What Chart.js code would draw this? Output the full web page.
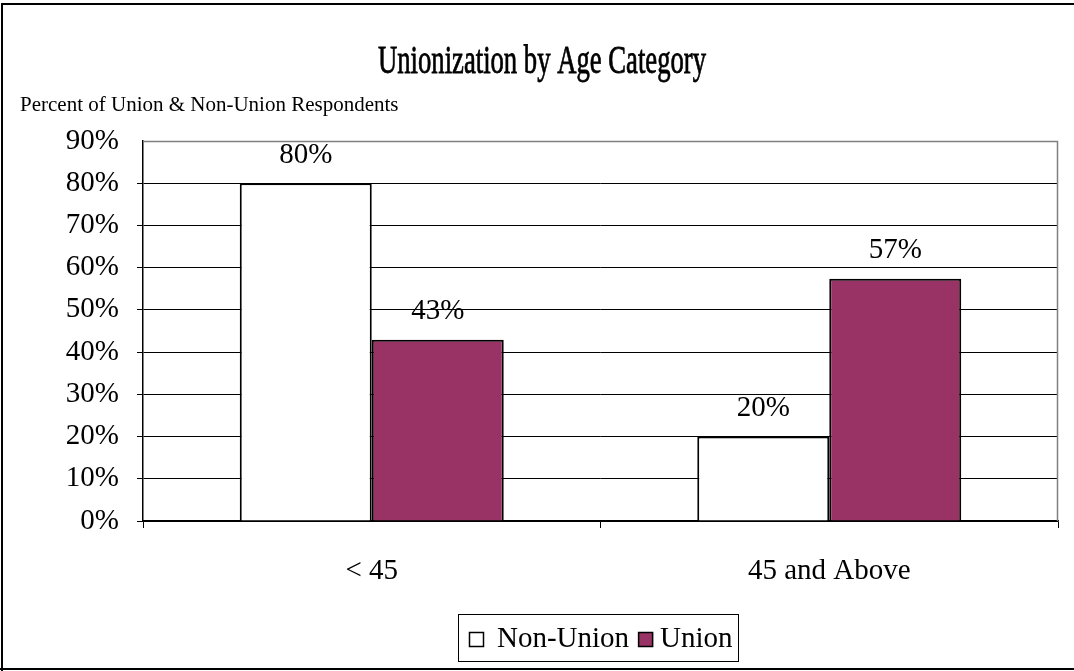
<!DOCTYPE html>
<html>
<head>
<meta charset="utf-8">
<script src="https://cdn.jsdelivr.net/npm/chart.js@4.4.0/dist/chart.umd.min.js"></script>
<style>
  html, body { margin: 0; padding: 0; background: #fff; }
  #wrap { width: 1074px; height: 671px; }
</style>
</head>
<body>
<div id="wrap"><canvas id="unionChart" width="1074" height="671"></canvas></div>
<script>
const categories = ['< 45', '45 and Above'];
const nonUnion = [80, 20];
const union = [42.9, 57.4];
const yTicks = [0, 10, 20, 30, 40, 50, 60, 70, 80, 90];

const chartTitle = 'Unionization by Age Category';
const yTitle = 'Percent of Union & Non-Union Respondents';
const serif = '"Liberation Serif", "Times New Roman", serif';

// frame, title, axis caption, plot border, value labels, legend
const decor = {
  id: 'decor',
  beforeDatasetsDraw(chart){
    const {ctx, chartArea:a} = chart;
    ctx.save();
    ctx.strokeStyle = '#808080';
    ctx.lineWidth = 1.5;
    ctx.beginPath();
    ctx.moveTo(a.left, a.top + 0.5);
    ctx.lineTo(a.right - 0.5, a.top + 0.5);
    ctx.lineTo(a.right - 0.5, a.bottom);
    ctx.stroke();
    ctx.restore();
  },
  afterDraw(chart){
    const {ctx} = chart;
    ctx.save();
    // outer frame
    ctx.strokeStyle = '#000';
    ctx.lineWidth = 2;
    ctx.beginPath();
    ctx.moveTo(2, 671);
    ctx.lineTo(2, 4);
    ctx.lineTo(1074, 4);
    ctx.moveTo(0, 669);
    ctx.lineTo(1074, 669);
    ctx.stroke();

    // condensed title
    ctx.fillStyle = '#000';
    ctx.font = '41px ' + serif;
    ctx.textBaseline = 'alphabetic';
    const w = ctx.measureText(chartTitle).width;
    ctx.save();
    ctx.translate(542, 73);
    ctx.scale(328 / w, 1);
    ctx.textAlign = 'center';
    ctx.fillText(chartTitle, 0, 0);
    ctx.lineWidth = 0.8;
    ctx.strokeText(chartTitle, 0, 0);
    ctx.restore();

    ctx.font = '21px ' + serif;
    ctx.textAlign = 'left';
    ctx.textBaseline = 'middle';
    ctx.fillText(yTitle, 20, 105);

    // value labels
    ctx.font = '29px ' + serif;
    ctx.textAlign = 'center';
    ctx.textBaseline = 'middle';
    chart.data.datasets.forEach((ds, i) => {
      chart.getDatasetMeta(i).data.forEach((bar, j) => {
        ctx.fillText(Math.round(ds.data[j]) + '%', bar.x, bar.y - 28);
      });
    });

    // legend
    ctx.font = '29px ' + serif;
    ctx.textAlign = 'left';
    const gaps = [13, 7];
    let x = 469;
    const cy = 639;
    ctx.lineWidth = 1.5;
    chart.data.datasets.forEach((ds, i) => {
      ctx.fillStyle = ds.backgroundColor;
      ctx.fillRect(x, cy - 7, 15, 15);
      ctx.strokeStyle = '#000';
      ctx.strokeRect(x + 0.5, cy - 6.5, 14, 14);
      x += 15 + gaps[i];
      ctx.fillStyle = '#000';
      ctx.fillText(ds.label, x, cy);
      x += ctx.measureText(ds.label).width + 9;
    });
    ctx.lineWidth = 1;
    ctx.strokeStyle = '#000';
    ctx.strokeRect(458.5, 614.5, 280, 47);
    ctx.restore();
  }
};

new Chart(document.getElementById('unionChart'), {
  type: 'bar',
  data: {
    labels: categories,
    datasets: [
      { label: 'Non-Union', data: nonUnion, backgroundColor: '#ffffff', borderColor: '#000', borderWidth: 2 },
      { label: 'Union', data: union, backgroundColor: '#993366', borderColor: '#000', borderWidth: 2 }
    ]
  },
  options: {
    responsive: false,
    animation: false,
    events: [],
    layout: { padding: { top: 141, left: 0, right: 16, bottom: 56 } },
    datasets: { bar: { categoryPercentage: 0.577, barPercentage: 1 } },
    plugins: {
      legend: { display: false },
      tooltip: { enabled: false },
      title: { display: false }
    },
    scales: {
      x: {
        afterFit(s){ s.height = 94; },
        grid: { offset: true, drawOnChartArea: false, drawTicks: true, tickLength: 7, color: '#000', lineWidth: 1 },
        border: { color: '#000', width: 1.5 },
        ticks: { color: '#000', font: { family: serif, size: 29 }, padding: 26 }
      },
      y: {
        min: 0, max: 90,
        afterFit(s){ s.width = 143; },
        afterBuildTicks(s){ s.ticks = yTicks.map(v => ({ value: v })); },
        grid: {
          color: c => c.tick && c.tick.value === 90 ? 'rgba(0,0,0,0)' : '#000',
          lineWidth: 1, drawTicks: true, tickLength: 6
        },
        border: { color: '#000', width: 1.5 },
        ticks: { color: '#000', font: { family: serif, size: 29 }, padding: 18, callback: v => v + '%' }
      }
    }
  },
  plugins: [decor]
});
</script>
</body>
</html>
